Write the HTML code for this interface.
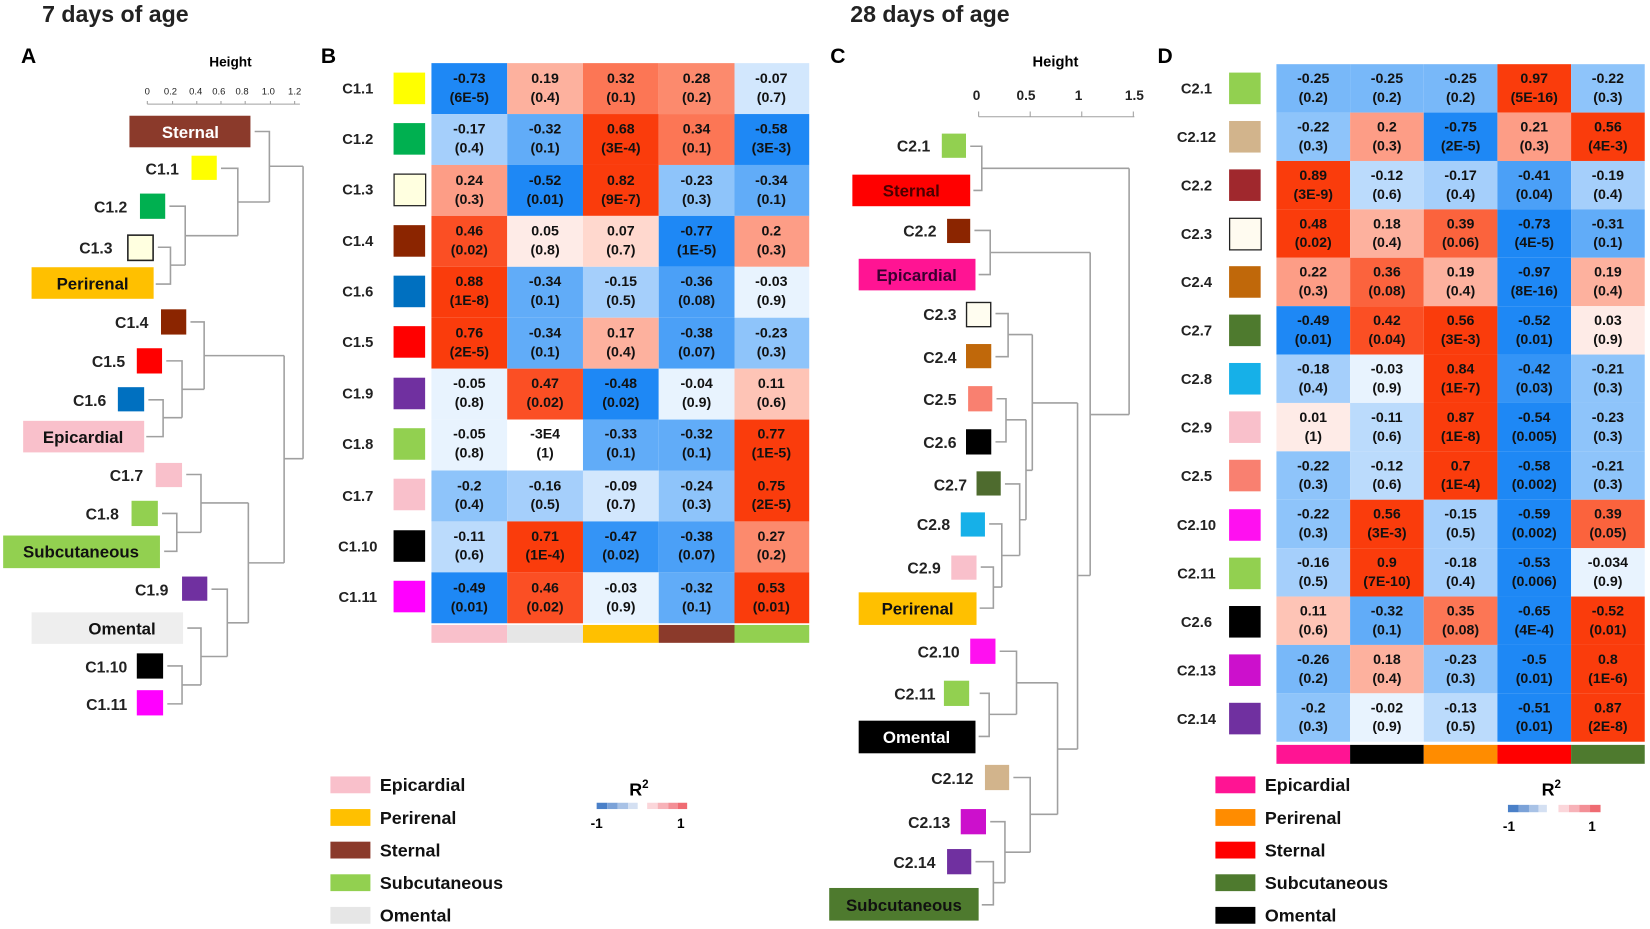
<!DOCTYPE html>
<html><head><meta charset="utf-8"><style>
html,body{margin:0;padding:0;background:#fff;}
svg{display:block;}
text{font-family:"Liberation Sans",Arial,sans-serif;}
.t{font-size:13.5px;font-weight:bold;text-anchor:middle;fill:#111;}
.l{font-size:15px;font-weight:bold;text-anchor:end;fill:#222;}
.rl{font-size:14px;font-weight:bold;text-anchor:middle;fill:#222;}
.d{stroke:#a0a0a0;stroke-width:1.5;fill:none;}
.lg{font-size:17px;font-weight:bold;fill:#111;}
.r1{fill:#FEEBE7}.r2{fill:#FFD8CE}.r3{fill:#FEC4B6}.r4{fill:#FDB19E}.r5{fill:#FD9D86}.r6{fill:#FC8A6D}.r7{fill:#FC7655}.r8{fill:#FB633D}.r9{fill:#FB4F24}.r10{fill:#FA3C0C}
.b1{fill:#E8F3FE}.b2{fill:#D2E7FD}.b3{fill:#BBDBFC}.b4{fill:#A5CFFB}.b5{fill:#8EC4FA}.b6{fill:#78B8F9}.b7{fill:#61ACF8}.b8{fill:#4BA0F7}.b9{fill:#3494F6}.b10{fill:#1E88F5}.w0{fill:#ffffff}
</style></head><body>
<svg width="1650" height="929" viewBox="0 0 1568 883" preserveAspectRatio="none" xmlns="http://www.w3.org/2000/svg">
<text x="40" y="21" font-size="22" font-weight="bold" fill="#222">7 days of age</text>
<text x="808" y="21" font-size="22" font-weight="bold" fill="#222">28 days of age</text>
<text x="20" y="60" font-size="20" font-weight="bold">A</text>
<text x="305" y="60" font-size="20" font-weight="bold">B</text>
<text x="789" y="60" font-size="20" font-weight="bold">C</text>
<text x="1100" y="60" font-size="20" font-weight="bold">D</text>

<text x="219" y="63" font-size="13" font-weight="bold" text-anchor="middle">Height</text>
<g font-size="9" text-anchor="middle" fill="#222">
<text x="140" y="90">0</text><text x="162" y="90">0.2</text><text x="186" y="90">0.4</text><text x="208" y="90">0.6</text><text x="230" y="90">0.8</text><text x="255" y="90">1.0</text><text x="280" y="90">1.2</text></g>
<path class="d" d="M140 99H285M140 99V96M164 99V96M187 99V96M210 99V96M233 99V96M257 99V96M280 99V96" style="stroke-width:1"/>

<rect x="123" y="110" width="115" height="30" fill="#8B3A2B"/><text x="181" y="131" font-size="16" font-weight="bold" fill="#fff" text-anchor="middle">Sternal</text>
<text class="l" x="170" y="166">C1.1</text><rect x="182" y="148" width="24" height="23" fill="#FFFF00"/>
<text class="l" x="121" y="202">C1.2</text><rect x="133" y="184" width="24" height="24" fill="#00B050"/>
<text class="l" x="107" y="241">C1.3</text><rect x="121.5" y="223.5" width="24" height="24" fill="#FFFFE0" stroke="#222" stroke-width="1.5"/>
<rect x="30" y="254" width="116" height="30" fill="#FFC000"/><text x="88" y="275" font-size="16" font-weight="bold" fill="#111" text-anchor="middle">Perirenal</text>
<text class="l" x="141" y="312">C1.4</text><rect x="153" y="294" width="24" height="24" fill="#8B2500"/>
<text class="l" x="119" y="349">C1.5</text><rect x="130" y="331" width="24" height="24" fill="#FF0000"/>
<text class="l" x="101" y="386">C1.6</text><rect x="112" y="368" width="25" height="23" fill="#0070C0"/>
<rect x="22" y="400" width="115" height="30" fill="#F9C0CB"/><text x="79" y="421" font-size="16" font-weight="bold" fill="#111" text-anchor="middle">Epicardial</text>
<text class="l" x="136" y="457">C1.7</text><rect x="148" y="440" width="25" height="23" fill="#F9C0CB"/>
<text class="l" x="113" y="494">C1.8</text><rect x="125" y="476" width="25" height="24" fill="#92D050"/>
<rect x="3" y="509" width="149" height="31" fill="#92D050"/><text x="77" y="530" font-size="16" font-weight="bold" fill="#111" text-anchor="middle">Subcutaneous</text>
<text class="l" x="160" y="566">C1.9</text><rect x="173" y="548" width="24" height="23" fill="#7030A0"/>
<rect x="30" y="582" width="144" height="30" fill="#EEEEEE"/><text x="116" y="603" font-size="16" font-weight="bold" fill="#111" text-anchor="middle">Omental</text>
<text class="l" x="121" y="639">C1.10</text><rect x="130" y="621" width="25" height="24" fill="#000"/>
<text class="l" x="121" y="675">C1.11</text><rect x="130" y="656" width="25" height="24" fill="#FF00FF"/>

<path class="d" d="M150 235H162V270H148M162 252H176M161 196H176V252M176 224H226M210 160H226V224M226 192H256M242 125H256V192M256 158H288
M141 380H155V415H139M155 397H173M158 343H173V397M173 370H194M181 306H194V370M194 338H270
M154 488H168V524H156M168 506H191M177 451H191V506M191 478H236
M159 633H173V669H159M173 651H191M178 597H191V651M191 624H216M201 560H216V624M216 592H236M236 478V592M236 535H270M270 338V535M270 436H288M288 158V436"/>

<g>
<text class="rl" x="340" y="89">C1.1</text><rect x="374" y="69" width="30" height="30" fill="#FFFF00"/>
<text class="rl" x="340" y="137">C1.2</text><rect x="374" y="117" width="30" height="30" fill="#00B050"/>
<text class="rl" x="340" y="185">C1.3</text><rect x="374.5" y="165.5" width="30" height="30" fill="#FFFFE0" stroke="#222" stroke-width="1.2"/>
<text class="rl" x="340" y="234">C1.4</text><rect x="374" y="214" width="30" height="30" fill="#8B2500"/>
<text class="rl" x="340" y="282">C1.6</text><rect x="374" y="262" width="30" height="30" fill="#0070C0"/>
<text class="rl" x="340" y="330">C1.5</text><rect x="374" y="310" width="30" height="30" fill="#FF0000"/>
<text class="rl" x="340" y="379">C1.9</text><rect x="374" y="359" width="30" height="30" fill="#7030A0"/>
<text class="rl" x="340" y="427">C1.8</text><rect x="374" y="407" width="30" height="30" fill="#92D050"/>
<text class="rl" x="340" y="476">C1.7</text><rect x="374" y="455" width="30" height="30" fill="#F9C0CB"/>
<text class="rl" x="340" y="524">C1.10</text><rect x="374" y="504" width="30" height="30" fill="#000"/>
<text class="rl" x="340" y="572">C1.11</text><rect x="374" y="552" width="30" height="30" fill="#FF00FF"/>
</g>
<g>
<rect class="b10" x="410" y="60" width="72" height="48.4"/><rect class="r4" x="482" y="60" width="72" height="48.4"/><rect class="r7" x="554" y="60" width="72" height="48.4"/><rect class="r6" x="626" y="60" width="72" height="48.4"/><rect class="b2" x="698" y="60" width="71" height="48.4"/>
<rect class="b4" x="410" y="108.4" width="72" height="48.4"/><rect class="b7" x="482" y="108.4" width="72" height="48.4"/><rect class="r10" x="554" y="108.4" width="72" height="48.4"/><rect class="r7" x="626" y="108.4" width="72" height="48.4"/><rect class="b10" x="698" y="108.4" width="71" height="48.4"/>
<rect class="r5" x="410" y="156.8" width="72" height="48.4"/><rect class="b10" x="482" y="156.8" width="72" height="48.4"/><rect class="r10" x="554" y="156.8" width="72" height="48.4"/><rect class="b5" x="626" y="156.8" width="72" height="48.4"/><rect class="b7" x="698" y="156.8" width="71" height="48.4"/>
<rect class="r9" x="410" y="205.2" width="72" height="48.4"/><rect class="r1" x="482" y="205.2" width="72" height="48.4"/><rect class="r2" x="554" y="205.2" width="72" height="48.4"/><rect class="b10" x="626" y="205.2" width="72" height="48.4"/><rect class="r5" x="698" y="205.2" width="71" height="48.4"/>
<rect class="r10" x="410" y="253.6" width="72" height="48.4"/><rect class="b7" x="482" y="253.6" width="72" height="48.4"/><rect class="b4" x="554" y="253.6" width="72" height="48.4"/><rect class="b8" x="626" y="253.6" width="72" height="48.4"/><rect class="b1" x="698" y="253.6" width="71" height="48.4"/>
<rect class="r10" x="410" y="302" width="72" height="48.4"/><rect class="b7" x="482" y="302" width="72" height="48.4"/><rect class="r4" x="554" y="302" width="72" height="48.4"/><rect class="b8" x="626" y="302" width="72" height="48.4"/><rect class="b5" x="698" y="302" width="71" height="48.4"/>
<rect class="b1" x="410" y="350.4" width="72" height="48.4"/><rect class="r9" x="482" y="350.4" width="72" height="48.4"/><rect class="b10" x="554" y="350.4" width="72" height="48.4"/><rect class="b1" x="626" y="350.4" width="72" height="48.4"/><rect class="r3" x="698" y="350.4" width="71" height="48.4"/>
<rect class="b1" x="410" y="398.8" width="72" height="48.4"/><rect class="w0" x="482" y="398.8" width="72" height="48.4"/><rect class="b7" x="554" y="398.8" width="72" height="48.4"/><rect class="b7" x="626" y="398.8" width="72" height="48.4"/><rect class="r10" x="698" y="398.8" width="71" height="48.4"/>
<rect class="b5" x="410" y="447.2" width="72" height="48.4"/><rect class="b4" x="482" y="447.2" width="72" height="48.4"/><rect class="b2" x="554" y="447.2" width="72" height="48.4"/><rect class="b5" x="626" y="447.2" width="72" height="48.4"/><rect class="r10" x="698" y="447.2" width="71" height="48.4"/>
<rect class="b3" x="410" y="495.6" width="72" height="48.4"/><rect class="r10" x="482" y="495.6" width="72" height="48.4"/><rect class="b9" x="554" y="495.6" width="72" height="48.4"/><rect class="b8" x="626" y="495.6" width="72" height="48.4"/><rect class="r6" x="698" y="495.6" width="71" height="48.4"/>
<rect class="b10" x="410" y="544" width="72" height="48.4"/><rect class="r9" x="482" y="544" width="72" height="48.4"/><rect class="b1" x="554" y="544" width="72" height="48.4"/><rect class="b7" x="626" y="544" width="72" height="48.4"/><rect class="r10" x="698" y="544" width="71" height="48.4"/>
</g>
<g>
<text class="t" x="446" y="79">-0.73<tspan x="446" dy="18">(6E-5)</tspan></text><text class="t" x="518" y="79">0.19<tspan x="518" dy="18">(0.4)</tspan></text><text class="t" x="590" y="79">0.32<tspan x="590" dy="18">(0.1)</tspan></text><text class="t" x="662" y="79">0.28<tspan x="662" dy="18">(0.2)</tspan></text><text class="t" x="733" y="79">-0.07<tspan x="733" dy="18">(0.7)</tspan></text>
<text class="t" x="446" y="127">-0.17<tspan x="446" dy="18">(0.4)</tspan></text><text class="t" x="518" y="127">-0.32<tspan x="518" dy="18">(0.1)</tspan></text><text class="t" x="590" y="127">0.68<tspan x="590" dy="18">(3E-4)</tspan></text><text class="t" x="662" y="127">0.34<tspan x="662" dy="18">(0.1)</tspan></text><text class="t" x="733" y="127">-0.58<tspan x="733" dy="18">(3E-3)</tspan></text>
<text class="t" x="446" y="176">0.24<tspan x="446" dy="18">(0.3)</tspan></text><text class="t" x="518" y="176">-0.52<tspan x="518" dy="18">(0.01)</tspan></text><text class="t" x="590" y="176">0.82<tspan x="590" dy="18">(9E-7)</tspan></text><text class="t" x="662" y="176">-0.23<tspan x="662" dy="18">(0.3)</tspan></text><text class="t" x="733" y="176">-0.34<tspan x="733" dy="18">(0.1)</tspan></text>
<text class="t" x="446" y="224">0.46<tspan x="446" dy="18">(0.02)</tspan></text><text class="t" x="518" y="224">0.05<tspan x="518" dy="18">(0.8)</tspan></text><text class="t" x="590" y="224">0.07<tspan x="590" dy="18">(0.7)</tspan></text><text class="t" x="662" y="224">-0.77<tspan x="662" dy="18">(1E-5)</tspan></text><text class="t" x="733" y="224">0.2<tspan x="733" dy="18">(0.3)</tspan></text>
<text class="t" x="446" y="272">0.88<tspan x="446" dy="18">(1E-8)</tspan></text><text class="t" x="518" y="272">-0.34<tspan x="518" dy="18">(0.1)</tspan></text><text class="t" x="590" y="272">-0.15<tspan x="590" dy="18">(0.5)</tspan></text><text class="t" x="662" y="272">-0.36<tspan x="662" dy="18">(0.08)</tspan></text><text class="t" x="733" y="272">-0.03<tspan x="733" dy="18">(0.9)</tspan></text>
<text class="t" x="446" y="321">0.76<tspan x="446" dy="18">(2E-5)</tspan></text><text class="t" x="518" y="321">-0.34<tspan x="518" dy="18">(0.1)</tspan></text><text class="t" x="590" y="321">0.17<tspan x="590" dy="18">(0.4)</tspan></text><text class="t" x="662" y="321">-0.38<tspan x="662" dy="18">(0.07)</tspan></text><text class="t" x="733" y="321">-0.23<tspan x="733" dy="18">(0.3)</tspan></text>
<text class="t" x="446" y="369">-0.05<tspan x="446" dy="18">(0.8)</tspan></text><text class="t" x="518" y="369">0.47<tspan x="518" dy="18">(0.02)</tspan></text><text class="t" x="590" y="369">-0.48<tspan x="590" dy="18">(0.02)</tspan></text><text class="t" x="662" y="369">-0.04<tspan x="662" dy="18">(0.9)</tspan></text><text class="t" x="733" y="369">0.11<tspan x="733" dy="18">(0.6)</tspan></text>
<text class="t" x="446" y="417">-0.05<tspan x="446" dy="18">(0.8)</tspan></text><text class="t" x="518" y="417">-3E4<tspan x="518" dy="18">(1)</tspan></text><text class="t" x="590" y="417">-0.33<tspan x="590" dy="18">(0.1)</tspan></text><text class="t" x="662" y="417">-0.32<tspan x="662" dy="18">(0.1)</tspan></text><text class="t" x="733" y="417">0.77<tspan x="733" dy="18">(1E-5)</tspan></text>
<text class="t" x="446" y="466">-0.2<tspan x="446" dy="18">(0.4)</tspan></text><text class="t" x="518" y="466">-0.16<tspan x="518" dy="18">(0.5)</tspan></text><text class="t" x="590" y="466">-0.09<tspan x="590" dy="18">(0.7)</tspan></text><text class="t" x="662" y="466">-0.24<tspan x="662" dy="18">(0.3)</tspan></text><text class="t" x="733" y="466">0.75<tspan x="733" dy="18">(2E-5)</tspan></text>
<text class="t" x="446" y="514">-0.11<tspan x="446" dy="18">(0.6)</tspan></text><text class="t" x="518" y="514">0.71<tspan x="518" dy="18">(1E-4)</tspan></text><text class="t" x="590" y="514">-0.47<tspan x="590" dy="18">(0.02)</tspan></text><text class="t" x="662" y="514">-0.38<tspan x="662" dy="18">(0.07)</tspan></text><text class="t" x="733" y="514">0.27<tspan x="733" dy="18">(0.2)</tspan></text>
<text class="t" x="446" y="563">-0.49<tspan x="446" dy="18">(0.01)</tspan></text><text class="t" x="518" y="563">0.46<tspan x="518" dy="18">(0.02)</tspan></text><text class="t" x="590" y="563">-0.03<tspan x="590" dy="18">(0.9)</tspan></text><text class="t" x="662" y="563">-0.32<tspan x="662" dy="18">(0.1)</tspan></text><text class="t" x="733" y="563">0.53<tspan x="733" dy="18">(0.01)</tspan></text>
</g>
<rect x="410" y="594" width="72" height="17" fill="#F9C0CB"/><rect x="482" y="594" width="72" height="17" fill="#E6E6E6"/><rect x="554" y="594" width="72" height="17" fill="#FFC000"/><rect x="626" y="594" width="72" height="17" fill="#8B3A2B"/><rect x="698" y="594" width="71" height="17" fill="#92D050"/>

<rect x="314" y="738" width="38" height="16" fill="#F9C0CB"/><text class="lg" x="361" y="752">Epicardial</text>
<rect x="314" y="769" width="38" height="16" fill="#FFC000"/><text class="lg" x="361" y="783">Perirenal</text>
<rect x="314" y="800" width="38" height="16" fill="#8B3A2B"/><text class="lg" x="361" y="814">Sternal</text>
<rect x="314" y="831" width="38" height="16" fill="#92D050"/><text class="lg" x="361" y="845">Subcutaneous</text>
<rect x="314" y="862" width="38" height="16" fill="#E6E6E6"/><text class="lg" x="361" y="876">Omental</text>
<text x="598" y="756" font-size="17" font-weight="bold">R<tspan font-size="11" dy="-7">2</tspan></text>
<rect x="567" y="763" width="10" height="6" fill="#4A80C8"/><rect x="577" y="763" width="10" height="6" fill="#7BA2D8"/><rect x="587" y="763" width="10" height="6" fill="#A8C2E6"/><rect x="597" y="763" width="9" height="6" fill="#D4E0F2"/>
<rect x="615" y="763" width="10" height="6" fill="#FBD6DA"/><rect x="625" y="763" width="10" height="6" fill="#F7B2B8"/><rect x="635" y="763" width="9" height="6" fill="#F38F96"/><rect x="644" y="763" width="9" height="6" fill="#EF6B72"/>
<text x="567" y="787" font-size="13" font-weight="bold" text-anchor="middle">-1</text><text x="647" y="787" font-size="13" font-weight="bold" text-anchor="middle">1</text>

<text x="1003" y="63" font-size="14" font-weight="bold" text-anchor="middle">Height</text>
<g font-size="13" font-weight="bold" text-anchor="middle" fill="#222"><text x="928" y="95">0</text><text x="975" y="95">0.5</text><text x="1025" y="95">1</text><text x="1078" y="95">1.5</text></g>
<path class="d" d="M930 111H1078M930 111V106M979 111V106M1028 111V106M1077 111V106" style="stroke-width:1"/>

<text class="l" x="884" y="144">C2.1</text><rect x="895" y="127" width="23" height="23" fill="#92D050"/>
<rect x="810" y="166" width="112" height="30" fill="#FF0000"/><text x="866" y="187" font-size="16" font-weight="bold" fill="#4a0000" text-anchor="middle">Sternal</text>
<text class="l" x="890" y="225">C2.2</text><rect x="900" y="208" width="22" height="23" fill="#8B2500"/>
<rect x="816" y="246" width="111" height="30" fill="#FF1493"/><text x="871" y="267" font-size="16" font-weight="bold" fill="#3a0030" text-anchor="middle">Epicardial</text>
<text class="l" x="909" y="304">C2.3</text><rect x="918.5" y="287.5" width="23" height="23" fill="#FFFDF0" stroke="#222" stroke-width="1.3"/>
<text class="l" x="909" y="345">C2.4</text><rect x="918" y="327" width="24" height="23" fill="#C0680A"/>
<text class="l" x="909" y="385">C2.5</text><rect x="920" y="367" width="23" height="24" fill="#F98070"/>
<text class="l" x="909" y="426">C2.6</text><rect x="918" y="408" width="24" height="24" fill="#000"/>
<text class="l" x="919" y="466">C2.7</text><rect x="928" y="448" width="23" height="23" fill="#4E6B2E"/>
<text class="l" x="903" y="504">C2.8</text><rect x="913" y="487" width="23" height="23" fill="#16B0E8"/>
<text class="l" x="894" y="545">C2.9</text><rect x="904" y="528" width="24" height="23" fill="#F9C0CB"/>
<rect x="816" y="563" width="112" height="31" fill="#FFC000"/><text x="872" y="584" font-size="16" font-weight="bold" fill="#111" text-anchor="middle">Perirenal</text>
<text class="l" x="912" y="625">C2.10</text><rect x="922" y="607" width="24" height="24" fill="#FF10F0"/>
<text class="l" x="889" y="665">C2.11</text><rect x="897" y="647" width="24" height="24" fill="#92D050"/>
<rect x="816" y="685" width="111" height="31" fill="#000"/><text x="871" y="706" font-size="16" font-weight="bold" fill="#fff" text-anchor="middle">Omental</text>
<text class="l" x="925" y="745">C2.12</text><rect x="936" y="727" width="23" height="24" fill="#D2B48C"/>
<text class="l" x="903" y="787">C2.13</text><rect x="913" y="769" width="24" height="24" fill="#CC10CC"/>
<text class="l" x="889" y="825">C2.14</text><rect x="900" y="807" width="23" height="24" fill="#7030A0"/>
<rect x="788" y="844" width="142" height="31" fill="#4E7A2E"/><text x="859" y="866" font-size="16" font-weight="bold" fill="#111" text-anchor="middle">Subcutaneous</text>

<path class="d" d="M922 139H933V181H925M933 160H1073
M926 219H941V261H930M941 240H1036
M946 298H958V339H946M958 318H981
M947 379H956V420H946M956 399H975
M932 539H944V578H931M944 558H952M940 498H952V558M952 528H969M955 460H969V528M969 494H975M975 399V494M975 447H981M981 318V447M981 383H1024
M931 659H940V700H930M940 679H966M950 619H966V679M966 649H1005
M927 819H944V860H933M944 839H955M941 781H955V839M955 810H979M963 739H979V810M979 774H1005M1005 649V774M1005 712H1024M1024 383V712M1024 547H1036M1036 240V547M1036 394H1073M1073 160V394"/>

<g>
<text class="rl" x="1137" y="89">C2.1</text><rect x="1168" y="69" width="30" height="30" fill="#92D050"/>
<text class="rl" x="1137" y="135">C2.12</text><rect x="1168" y="115" width="30" height="30" fill="#D2B48C"/>
<text class="rl" x="1137" y="181">C2.2</text><rect x="1168" y="161" width="30" height="30" fill="#A0282D"/>
<text class="rl" x="1137" y="227">C2.3</text><rect x="1168.5" y="207.5" width="30" height="30" fill="#FFFBF0" stroke="#222" stroke-width="1.2"/>
<text class="rl" x="1137" y="273">C2.4</text><rect x="1168" y="253" width="30" height="30" fill="#C0680A"/>
<text class="rl" x="1137" y="319">C2.7</text><rect x="1168" y="299" width="30" height="30" fill="#4E7A2E"/>
<text class="rl" x="1137" y="365">C2.8</text><rect x="1168" y="345" width="30" height="30" fill="#16B0E8"/>
<text class="rl" x="1137" y="411">C2.9</text><rect x="1168" y="391" width="30" height="30" fill="#F9C0CB"/>
<text class="rl" x="1137" y="457">C2.5</text><rect x="1168" y="437" width="30" height="30" fill="#F98070"/>
<text class="rl" x="1137" y="504">C2.10</text><rect x="1168" y="484" width="30" height="30" fill="#FF10F0"/>
<text class="rl" x="1137" y="550">C2.11</text><rect x="1168" y="530" width="30" height="30" fill="#92D050"/>
<text class="rl" x="1137" y="596">C2.6</text><rect x="1168" y="576" width="30" height="30" fill="#000"/>
<text class="rl" x="1137" y="642">C2.13</text><rect x="1168" y="622" width="30" height="30" fill="#CC10CC"/>
<text class="rl" x="1137" y="688">C2.14</text><rect x="1168" y="668" width="30" height="30" fill="#7030A0"/>
</g>
<g>
<rect class="b6" x="1213" y="61" width="70" height="46"/><rect class="b6" x="1283" y="61" width="70" height="46"/><rect class="b6" x="1353" y="61" width="70" height="46"/><rect class="r10" x="1423" y="61" width="70" height="46"/><rect class="b5" x="1493" y="61" width="70" height="46"/>
<rect class="b5" x="1213" y="107" width="70" height="46"/><rect class="r5" x="1283" y="107" width="70" height="46"/><rect class="b10" x="1353" y="107" width="70" height="46"/><rect class="r5" x="1423" y="107" width="70" height="46"/><rect class="r10" x="1493" y="107" width="70" height="46"/>
<rect class="r10" x="1213" y="153" width="70" height="46"/><rect class="b3" x="1283" y="153" width="70" height="46"/><rect class="b4" x="1353" y="153" width="70" height="46"/><rect class="b8" x="1423" y="153" width="70" height="46"/><rect class="b4" x="1493" y="153" width="70" height="46"/>
<rect class="r10" x="1213" y="199" width="70" height="46"/><rect class="r4" x="1283" y="199" width="70" height="46"/><rect class="r8" x="1353" y="199" width="70" height="46"/><rect class="b10" x="1423" y="199" width="70" height="46"/><rect class="b7" x="1493" y="199" width="70" height="46"/>
<rect class="r5" x="1213" y="245" width="70" height="46"/><rect class="r8" x="1283" y="245" width="70" height="46"/><rect class="r4" x="1353" y="245" width="70" height="46"/><rect class="b10" x="1423" y="245" width="70" height="46"/><rect class="r4" x="1493" y="245" width="70" height="46"/>
<rect class="b10" x="1213" y="291" width="70" height="46"/><rect class="r9" x="1283" y="291" width="70" height="46"/><rect class="r10" x="1353" y="291" width="70" height="46"/><rect class="b10" x="1423" y="291" width="70" height="46"/><rect class="r1" x="1493" y="291" width="70" height="46"/>
<rect class="b4" x="1213" y="337" width="70" height="46"/><rect class="b1" x="1283" y="337" width="70" height="46"/><rect class="r10" x="1353" y="337" width="70" height="46"/><rect class="b9" x="1423" y="337" width="70" height="46"/><rect class="b5" x="1493" y="337" width="70" height="46"/>
<rect class="r1" x="1213" y="383" width="70" height="46"/><rect class="b3" x="1283" y="383" width="70" height="46"/><rect class="r10" x="1353" y="383" width="70" height="46"/><rect class="b10" x="1423" y="383" width="70" height="46"/><rect class="b5" x="1493" y="383" width="70" height="46"/>
<rect class="b5" x="1213" y="429" width="70" height="46"/><rect class="b3" x="1283" y="429" width="70" height="46"/><rect class="r10" x="1353" y="429" width="70" height="46"/><rect class="b10" x="1423" y="429" width="70" height="46"/><rect class="b5" x="1493" y="429" width="70" height="46"/>
<rect class="b5" x="1213" y="475" width="70" height="46"/><rect class="r10" x="1283" y="475" width="70" height="46"/><rect class="b4" x="1353" y="475" width="70" height="46"/><rect class="b10" x="1423" y="475" width="70" height="46"/><rect class="r8" x="1493" y="475" width="70" height="46"/>
<rect class="b4" x="1213" y="521" width="70" height="46"/><rect class="r10" x="1283" y="521" width="70" height="46"/><rect class="b4" x="1353" y="521" width="70" height="46"/><rect class="b10" x="1423" y="521" width="70" height="46"/><rect class="b1" x="1493" y="521" width="70" height="46"/>
<rect class="r3" x="1213" y="567" width="70" height="46"/><rect class="b7" x="1283" y="567" width="70" height="46"/><rect class="r7" x="1353" y="567" width="70" height="46"/><rect class="b10" x="1423" y="567" width="70" height="46"/><rect class="r10" x="1493" y="567" width="70" height="46"/>
<rect class="b6" x="1213" y="613" width="70" height="46"/><rect class="r4" x="1283" y="613" width="70" height="46"/><rect class="b5" x="1353" y="613" width="70" height="46"/><rect class="b10" x="1423" y="613" width="70" height="46"/><rect class="r10" x="1493" y="613" width="70" height="46"/>
<rect class="b5" x="1213" y="659" width="70" height="46"/><rect class="b1" x="1283" y="659" width="70" height="46"/><rect class="b3" x="1353" y="659" width="70" height="46"/><rect class="b10" x="1423" y="659" width="70" height="46"/><rect class="r10" x="1493" y="659" width="70" height="46"/>
</g>
<g>
<text class="t" x="1248" y="79">-0.25<tspan x="1248" dy="18">(0.2)</tspan></text><text class="t" x="1318" y="79">-0.25<tspan x="1318" dy="18">(0.2)</tspan></text><text class="t" x="1388" y="79">-0.25<tspan x="1388" dy="18">(0.2)</tspan></text><text class="t" x="1458" y="79">0.97<tspan x="1458" dy="18">(5E-16)</tspan></text><text class="t" x="1528" y="79">-0.22<tspan x="1528" dy="18">(0.3)</tspan></text>
<text class="t" x="1248" y="125">-0.22<tspan x="1248" dy="18">(0.3)</tspan></text><text class="t" x="1318" y="125">0.2<tspan x="1318" dy="18">(0.3)</tspan></text><text class="t" x="1388" y="125">-0.75<tspan x="1388" dy="18">(2E-5)</tspan></text><text class="t" x="1458" y="125">0.21<tspan x="1458" dy="18">(0.3)</tspan></text><text class="t" x="1528" y="125">0.56<tspan x="1528" dy="18">(4E-3)</tspan></text>
<text class="t" x="1248" y="171">0.89<tspan x="1248" dy="18">(3E-9)</tspan></text><text class="t" x="1318" y="171">-0.12<tspan x="1318" dy="18">(0.6)</tspan></text><text class="t" x="1388" y="171">-0.17<tspan x="1388" dy="18">(0.4)</tspan></text><text class="t" x="1458" y="171">-0.41<tspan x="1458" dy="18">(0.04)</tspan></text><text class="t" x="1528" y="171">-0.19<tspan x="1528" dy="18">(0.4)</tspan></text>
<text class="t" x="1248" y="217">0.48<tspan x="1248" dy="18">(0.02)</tspan></text><text class="t" x="1318" y="217">0.18<tspan x="1318" dy="18">(0.4)</tspan></text><text class="t" x="1388" y="217">0.39<tspan x="1388" dy="18">(0.06)</tspan></text><text class="t" x="1458" y="217">-0.73<tspan x="1458" dy="18">(4E-5)</tspan></text><text class="t" x="1528" y="217">-0.31<tspan x="1528" dy="18">(0.1)</tspan></text>
<text class="t" x="1248" y="263">0.22<tspan x="1248" dy="18">(0.3)</tspan></text><text class="t" x="1318" y="263">0.36<tspan x="1318" dy="18">(0.08)</tspan></text><text class="t" x="1388" y="263">0.19<tspan x="1388" dy="18">(0.4)</tspan></text><text class="t" x="1458" y="263">-0.97<tspan x="1458" dy="18">(8E-16)</tspan></text><text class="t" x="1528" y="263">0.19<tspan x="1528" dy="18">(0.4)</tspan></text>
<text class="t" x="1248" y="309">-0.49<tspan x="1248" dy="18">(0.01)</tspan></text><text class="t" x="1318" y="309">0.42<tspan x="1318" dy="18">(0.04)</tspan></text><text class="t" x="1388" y="309">0.56<tspan x="1388" dy="18">(3E-3)</tspan></text><text class="t" x="1458" y="309">-0.52<tspan x="1458" dy="18">(0.01)</tspan></text><text class="t" x="1528" y="309">0.03<tspan x="1528" dy="18">(0.9)</tspan></text>
<text class="t" x="1248" y="355">-0.18<tspan x="1248" dy="18">(0.4)</tspan></text><text class="t" x="1318" y="355">-0.03<tspan x="1318" dy="18">(0.9)</tspan></text><text class="t" x="1388" y="355">0.84<tspan x="1388" dy="18">(1E-7)</tspan></text><text class="t" x="1458" y="355">-0.42<tspan x="1458" dy="18">(0.03)</tspan></text><text class="t" x="1528" y="355">-0.21<tspan x="1528" dy="18">(0.3)</tspan></text>
<text class="t" x="1248" y="401">0.01<tspan x="1248" dy="18">(1)</tspan></text><text class="t" x="1318" y="401">-0.11<tspan x="1318" dy="18">(0.6)</tspan></text><text class="t" x="1388" y="401">0.87<tspan x="1388" dy="18">(1E-8)</tspan></text><text class="t" x="1458" y="401">-0.54<tspan x="1458" dy="18">(0.005)</tspan></text><text class="t" x="1528" y="401">-0.23<tspan x="1528" dy="18">(0.3)</tspan></text>
<text class="t" x="1248" y="447">-0.22<tspan x="1248" dy="18">(0.3)</tspan></text><text class="t" x="1318" y="447">-0.12<tspan x="1318" dy="18">(0.6)</tspan></text><text class="t" x="1388" y="447">0.7<tspan x="1388" dy="18">(1E-4)</tspan></text><text class="t" x="1458" y="447">-0.58<tspan x="1458" dy="18">(0.002)</tspan></text><text class="t" x="1528" y="447">-0.21<tspan x="1528" dy="18">(0.3)</tspan></text>
<text class="t" x="1248" y="493">-0.22<tspan x="1248" dy="18">(0.3)</tspan></text><text class="t" x="1318" y="493">0.56<tspan x="1318" dy="18">(3E-3)</tspan></text><text class="t" x="1388" y="493">-0.15<tspan x="1388" dy="18">(0.5)</tspan></text><text class="t" x="1458" y="493">-0.59<tspan x="1458" dy="18">(0.002)</tspan></text><text class="t" x="1528" y="493">0.39<tspan x="1528" dy="18">(0.05)</tspan></text>
<text class="t" x="1248" y="539">-0.16<tspan x="1248" dy="18">(0.5)</tspan></text><text class="t" x="1318" y="539">0.9<tspan x="1318" dy="18">(7E-10)</tspan></text><text class="t" x="1388" y="539">-0.18<tspan x="1388" dy="18">(0.4)</tspan></text><text class="t" x="1458" y="539">-0.53<tspan x="1458" dy="18">(0.006)</tspan></text><text class="t" x="1528" y="539">-0.034<tspan x="1528" dy="18">(0.9)</tspan></text>
<text class="t" x="1248" y="585">0.11<tspan x="1248" dy="18">(0.6)</tspan></text><text class="t" x="1318" y="585">-0.32<tspan x="1318" dy="18">(0.1)</tspan></text><text class="t" x="1388" y="585">0.35<tspan x="1388" dy="18">(0.08)</tspan></text><text class="t" x="1458" y="585">-0.65<tspan x="1458" dy="18">(4E-4)</tspan></text><text class="t" x="1528" y="585">-0.52<tspan x="1528" dy="18">(0.01)</tspan></text>
<text class="t" x="1248" y="631">-0.26<tspan x="1248" dy="18">(0.2)</tspan></text><text class="t" x="1318" y="631">0.18<tspan x="1318" dy="18">(0.4)</tspan></text><text class="t" x="1388" y="631">-0.23<tspan x="1388" dy="18">(0.3)</tspan></text><text class="t" x="1458" y="631">-0.5<tspan x="1458" dy="18">(0.01)</tspan></text><text class="t" x="1528" y="631">0.8<tspan x="1528" dy="18">(1E-6)</tspan></text>
<text class="t" x="1248" y="677">-0.2<tspan x="1248" dy="18">(0.3)</tspan></text><text class="t" x="1318" y="677">-0.02<tspan x="1318" dy="18">(0.9)</tspan></text><text class="t" x="1388" y="677">-0.13<tspan x="1388" dy="18">(0.5)</tspan></text><text class="t" x="1458" y="677">-0.51<tspan x="1458" dy="18">(0.01)</tspan></text><text class="t" x="1528" y="677">0.87<tspan x="1528" dy="18">(2E-8)</tspan></text>
</g>
<rect x="1213" y="708" width="70" height="18" fill="#FF1493"/><rect x="1283" y="708" width="70" height="18" fill="#000"/><rect x="1353" y="708" width="70" height="18" fill="#FF8C00"/><rect x="1423" y="708" width="70" height="18" fill="#FF0000"/><rect x="1493" y="708" width="70" height="18" fill="#4E7A2E"/>

<rect x="1155" y="738" width="38" height="16" fill="#FF1493"/><text class="lg" x="1202" y="752">Epicardial</text>
<rect x="1155" y="769" width="38" height="16" fill="#FF8C00"/><text class="lg" x="1202" y="783">Perirenal</text>
<rect x="1155" y="800" width="38" height="16" fill="#FF0000"/><text class="lg" x="1202" y="814">Sternal</text>
<rect x="1155" y="831" width="38" height="16" fill="#4E7A2E"/><text class="lg" x="1202" y="845">Subcutaneous</text>
<rect x="1155" y="862" width="38" height="16" fill="#000"/><text class="lg" x="1202" y="876">Omental</text>
<text x="1465" y="756" font-size="17" font-weight="bold">R<tspan font-size="11" dy="-7">2</tspan></text>
<rect x="1433" y="765" width="10" height="7" fill="#4A80C8"/><rect x="1443" y="765" width="10" height="7" fill="#7BA2D8"/><rect x="1453" y="765" width="9" height="7" fill="#A8C2E6"/><rect x="1462" y="765" width="8" height="7" fill="#D4E0F2"/>
<rect x="1481" y="765" width="10" height="7" fill="#FBD6DA"/><rect x="1491" y="765" width="10" height="7" fill="#F7B2B8"/><rect x="1501" y="765" width="10" height="7" fill="#F38F96"/><rect x="1511" y="765" width="10" height="7" fill="#EF6B72"/>
<text x="1434" y="790" font-size="13" font-weight="bold" text-anchor="middle">-1</text><text x="1513" y="790" font-size="13" font-weight="bold" text-anchor="middle">1</text>
</svg>
</body></html>
